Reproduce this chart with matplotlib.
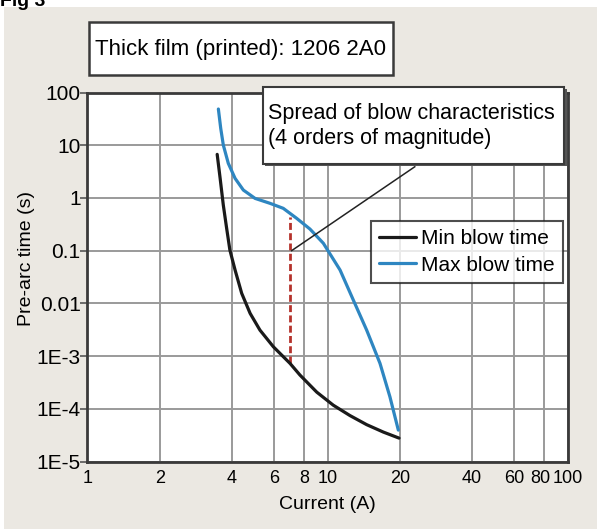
import numpy as np
import matplotlib
matplotlib.use("Agg")
import matplotlib.pyplot as plt
import matplotlib.transforms as mtransforms
from matplotlib.patches import Rectangle

plt.rcParams['font.family'] = ['Liberation Sans', 'DejaVu Sans']

# data
max_current = [3.51, 3.59, 3.68, 3.86, 4.12, 4.46, 4.99, 5.76, 6.54, 7.44, 8.45, 9.61,
               11.28, 12.81, 14.56, 16.55, 18.2, 19.73]
max_time = [48.6, 20.9, 10.1, 4.54, 2.35, 1.41, 0.98, 0.79, 0.635, 0.41, 0.257, 0.138,
            0.0429, 0.01156, 3.11e-3, 7.26e-4, 1.69e-4, 3.94e-5]

min_current = [3.47, 3.57, 3.68, 3.80, 3.92, 4.12, 4.39, 4.76, 5.23, 5.95, 6.98, 7.68,
               9.02, 10.57, 12.41, 14.56, 17.1, 19.86]
min_time = [6.7, 2.35, 0.733, 0.265, 0.1026, 0.0429, 0.0155, 6.46e-3, 3.11e-3, 1.5e-3,
            7.26e-4, 4.36e-4, 2.07e-4, 1.17e-4, 7.43e-5, 5.0e-5, 3.61e-5, 2.78e-5]

spread_current = 7.01
spread_low, spread_high = 7.26e-4, 0.434
callout_from = (7.09, 0.1)
callout_to = (23.1, 3.9)

x_ticks = [1, 2, 4, 6, 8, 10, 20, 40, 60, 80, 100]
x_labels = ['1', '2', '4', '6', '8', '10', '20', '40', '60', '80', '100']
y_ticks = [1e-5, 1e-4, 1e-3, 1e-2, 1e-1, 1, 10, 100]
y_labels = ['1E-5', '1E-4', '1E-3', '0.01', '0.1', '1', '10', '100']

W, H = 597, 529
bg = '#ebe8e2'


def fx(px):
    return px / W


def fy(py):
    return 1 - py / H


fig = plt.figure(figsize=(W / 100, H / 100), dpi=100, facecolor='white')
fig.patches.append(Rectangle((fx(4), 0), 1, fy(7), transform=fig.transFigure,
                             facecolor=bg, edgecolor='none', zorder=-10))
fig.text(0.0, 1.0 + 0.014, 'Fig 3', fontsize=14, fontweight='bold', va='top', ha='left')

ax = fig.add_axes([fx(87.5), fy(461.5), (567.5 - 87.5) / W, (461.5 - 92.5) / H])
ax.set_xscale('log')
ax.set_yscale('log')
ax.set_xlim(1, 100)
ax.set_ylim(1e-5, 100)

ax.plot(max_current, max_time, color='#2e86c1', lw=2.3, zorder=3,
        solid_joinstyle='round', solid_capstyle='round')
ax.plot(min_current, min_time, color='#1a1a1a', lw=2.3, zorder=3,
        solid_joinstyle='round', solid_capstyle='round')
ax.plot([spread_current, spread_current], [spread_low, spread_high],
        color='#b5322b', lw=2, ls=(0, (2.5, 1.2)), zorder=2)
ax.plot([callout_from[0], callout_to[0]], [callout_from[1], callout_to[1]],
        color='#222222', lw=1.1, zorder=4, clip_on=False)

ax.set_xticks(x_ticks)
ax.set_xticklabels(x_labels)
ax.set_yticks(y_ticks)
ax.set_yticklabels(y_labels)
ax.minorticks_off()
ax.tick_params(axis='x', length=0, labelsize=13, pad=6)
ax.tick_params(axis='y', length=5, width=1.2, color='#555555', labelsize=15, pad=0)
ax.grid(True, color='#9a9a9a', lw=1.4)
for s in ax.spines.values():
    s.set_color('#3a3a3a')
    s.set_linewidth(2)

# nudge the crowded "80" label left, like the reference
lab80 = ax.get_xticklabels()[x_labels.index('80')]
lab80.set_transform(lab80.get_transform() + mtransforms.ScaledTranslation(-4 / 100, 0, fig.dpi_scale_trans))

ax.set_xlabel('Current (A)', fontsize=14)
ax.xaxis.set_label_coords((327.5 - 87.5) / 480, -(496 - 461.5) / 369)
ax.set_ylabel('Pre-arc time (s)', fontsize=14)
ax.yaxis.set_label_coords(-(87.5 - 35) / 480, (461.5 - 259) / 369)

# title box
fig.patches.append(Rectangle((fx(89), fy(75)), (393 - 89) / W, 53 / H, transform=fig.transFigure,
                             facecolor='white', edgecolor='#3a3a3a', lw=1.8, zorder=5))
fig.text(fx(95), fy(49), 'Thick film (printed): 1206 2A0', fontsize=16,
         va='center', ha='left', zorder=6)

# callout box
fig.patches.append(Rectangle((fx(265), fy(166)), 302 / W, 77 / H, transform=fig.transFigure,
                             facecolor='#555555', edgecolor='none', zorder=5))
fig.patches.append(Rectangle((fx(263), fy(164)), 301 / W, 77 / H, transform=fig.transFigure,
                             facecolor='white', edgecolor='#3a3a3a', lw=1.5, zorder=6))
fig.text(fx(268), fy(126), 'Spread of blow characteristics\n(4 orders of magnitude)',
         fontsize=15.5, va='center', ha='left', linespacing=1.3, zorder=7)

leg = ax.legend(['Min blow time', 'Max blow time'], loc='upper right',
                bbox_to_anchor=((563 - 87.5) / 480, (461.5 - 221) / 369), fontsize=15,
                frameon=True, fancybox=False, handlelength=1.75, handletextpad=0.25,
                borderpad=0.4, labelspacing=0.35, borderaxespad=0, edgecolor='#222222')
leg.get_frame().set_linewidth(1.5)
leg.legend_handles[0].set_color('#1a1a1a')
leg.legend_handles[1].set_color('#2e86c1')
for h in leg.legend_handles:
    h.set_linewidth(2.3)
leg.set_zorder(8)

fig.savefig('out.png', dpi=100, facecolor='white')
